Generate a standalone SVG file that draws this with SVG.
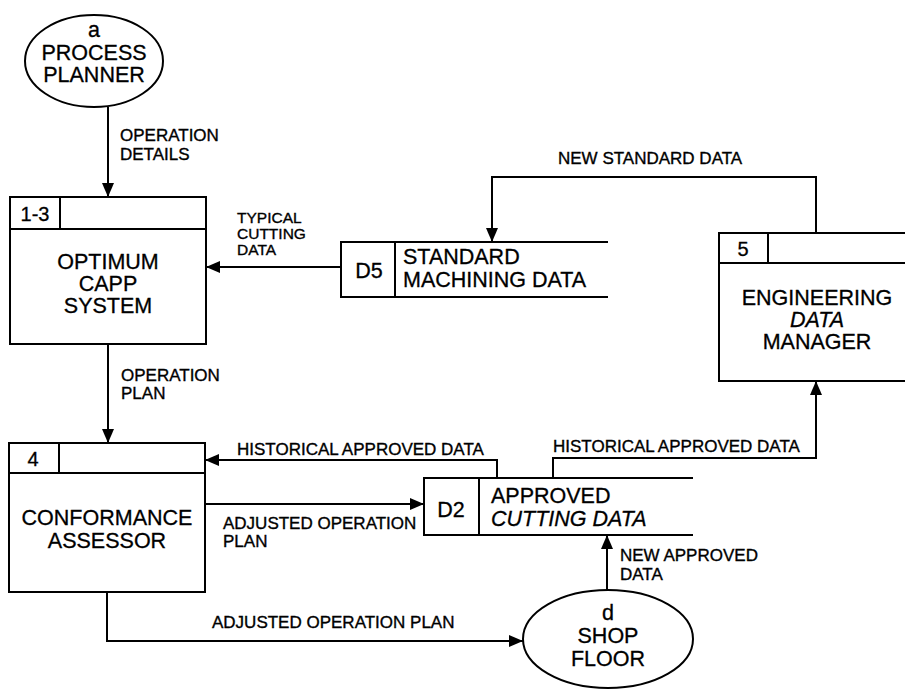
<svg xmlns="http://www.w3.org/2000/svg" width="905" height="689" viewBox="0 0 905 689">
<defs>
<style>
.n{font-family:"Liberation Sans",Arial,sans-serif;font-size:21.5px;fill:#000;stroke:#000;stroke-width:0.3;text-anchor:middle}
.l{font-family:"Liberation Sans",Arial,sans-serif;font-size:17px;fill:#000;stroke:#000;stroke-width:0.35}
.s{fill:#fff;stroke:#000;stroke-width:2}
.c{fill:none;stroke:#000;stroke-width:2}
</style>
<marker id="ah" viewBox="0 0 14 12" refX="14" refY="6" markerWidth="14" markerHeight="12" markerUnits="userSpaceOnUse" orient="auto">
<path d="M0,0 L14,6 L0,12 Z" fill="#000"/>
</marker>
</defs>
<rect width="905" height="689" fill="#fff"/>

<g id="process-planner">
<ellipse class="s" cx="94" cy="61" rx="69" ry="46"/>
<text class="n" x="94" y="37">a</text>
<text class="n" x="94" y="60">PROCESS</text>
<text class="n" x="94" y="82">PLANNER</text>
</g>

<g id="optimum-capp">
<rect class="s" x="10" y="197" width="196" height="147"/>
<line class="c" x1="10" y1="229" x2="206" y2="229"/>
<line class="c" x1="60" y1="197" x2="60" y2="229"/>
<text class="n" x="35" y="221" style="font-size:20px">1-3</text>
<text class="n" x="108" y="269">OPTIMUM</text>
<text class="n" x="108" y="291">CAPP</text>
<text class="n" x="108" y="313">SYSTEM</text>
</g>

<g id="d5">
<rect class="s" x="341" y="242" width="54" height="55"/>
<line class="c" x1="395" y1="242" x2="608" y2="242"/>
<line class="c" x1="395" y1="297" x2="608" y2="297"/>
<text class="n" x="369" y="278">D5</text>
<text class="n" x="403" y="264" style="text-anchor:start">STANDARD</text>
<text class="n" x="403" y="287" style="text-anchor:start">MACHINING DATA</text>
</g>

<g id="engineering-data-manager">
<rect class="s" x="719" y="233" width="190" height="148"/>
<line class="c" x1="719" y1="263" x2="909" y2="263"/>
<line class="c" x1="768" y1="233" x2="768" y2="263"/>
<text class="n" x="743" y="256" style="font-size:20px">5</text>
<text class="n" x="817" y="305">ENGINEERING</text>
<text class="n" x="817" y="327" style="font-style:italic">DATA</text>
<text class="n" x="817" y="349">MANAGER</text>
</g>

<g id="conformance-assessor">
<rect class="s" x="9" y="443" width="196" height="149"/>
<line class="c" x1="9" y1="473" x2="205" y2="473"/>
<line class="c" x1="59" y1="443" x2="59" y2="473"/>
<text class="n" x="33" y="466" style="font-size:20px">4</text>
<text class="n" x="107" y="525">CONFORMANCE</text>
<text class="n" x="107" y="548">ASSESSOR</text>
</g>

<g id="d2">
<rect class="s" x="424" y="478" width="55" height="57"/>
<line class="c" x1="479" y1="478" x2="693" y2="478"/>
<line class="c" x1="479" y1="535" x2="693" y2="535"/>
<text class="n" x="451" y="517">D2</text>
<text class="n" x="491" y="503" style="text-anchor:start">APPROVED</text>
<text class="n" x="491" y="526" style="text-anchor:start;font-style:italic">CUTTING DATA</text>
</g>

<g id="shop-floor">
<ellipse class="s" cx="608" cy="639" rx="85" ry="49"/>
<text class="n" x="608" y="620">d</text>
<text class="n" x="608" y="643">SHOP</text>
<text class="n" x="608" y="666">FLOOR</text>
</g>

<g id="connectors">
<path class="c" d="M108,107 L108,197" marker-end="url(#ah)"/>
<path class="c" d="M341,267 L206,267" marker-end="url(#ah)"/>
<path class="c" d="M816,233 L816,177 L492,177 L492,242" marker-end="url(#ah)"/>
<path class="c" d="M108,344 L108,443" marker-end="url(#ah)"/>
<path class="c" d="M497,478 L497,460 L205,460" marker-end="url(#ah)"/>
<path class="c" d="M205,504 L424,504" marker-end="url(#ah)"/>
<path class="c" d="M553,478 L553,458 L816,458 L816,381" marker-end="url(#ah)"/>
<path class="c" d="M607,590 L607,535" marker-end="url(#ah)"/>
<path class="c" d="M107,592 L107,641 L523,641" marker-end="url(#ah)"/>
</g>

<g id="labels">
<text class="l" x="120" y="141">OPERATION</text>
<text class="l" x="120" y="160">DETAILS</text>
<text class="l" x="237" y="223" style="font-size:15.5px">TYPICAL</text>
<text class="l" x="237" y="239" style="font-size:15.5px">CUTTING</text>
<text class="l" x="237" y="255" style="font-size:15.5px">DATA</text>
<text class="l" x="558" y="164">NEW STANDARD DATA</text>
<text class="l" x="121" y="381">OPERATION</text>
<text class="l" x="121" y="399">PLAN</text>
<text class="l" x="237" y="455">HISTORICAL APPROVED DATA</text>
<text class="l" x="553" y="452">HISTORICAL APPROVED DATA</text>
<text class="l" x="223" y="529">ADJUSTED OPERATION</text>
<text class="l" x="223" y="547">PLAN</text>
<text class="l" x="620" y="561">NEW APPROVED</text>
<text class="l" x="620" y="580">DATA</text>
<text class="l" x="212" y="628">ADJUSTED OPERATION PLAN</text>
</g>
</svg>
